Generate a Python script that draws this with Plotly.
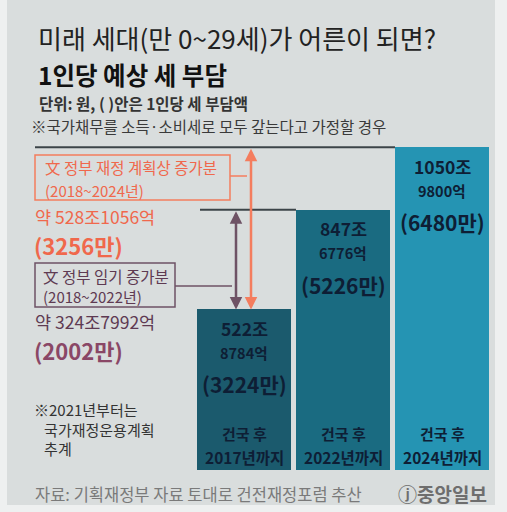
import plotly.graph_objects as go

# ---- data ----
categories = ["건국 후<br>2017년까지", "건국 후<br>2022년까지", "건국 후<br>2024년까지"]
debt_jo = [522.8784, 847.6776, 1050.98]          # 조 원
debt_labels = [("522조", "8784억"), ("847조", "6776억"), ("1050조", "9800억")]
per_capita = ["(3224만)", "(5226만)", "(6480만)"]
bar_colors = ["#1b5a6d", "#1a6b81", "#2594b3"]

inc_plan_label = "약 528조1056억"
inc_plan_pc = "(3256만)"
inc_term_label = "약 324조7992억"
inc_term_pc = "(2002만)"

W, H = 507, 512
FONT = "Noto Sans CJK KR"
DARK = "#0e1e35"
ORANGE = "#f0684c"
ORANGE_L = "#f47d5e"
PURPLE = "#5e3a52"
PURPLE_L = "#6e5265"

# pixel <-> data mapping (margins 0, plot area = whole figure)
X0_PX, X_SCALE = 244.0, 99.0     # bar index 0 centre, px per category
Y0_PX, Y_SCALE = 470.0, 0.307    # value 0 at px 470, px per 조
xr = [(0 - X0_PX) / X_SCALE, (W - X0_PX) / X_SCALE]
yr = [-(H - Y0_PX) / Y_SCALE, Y0_PX / Y_SCALE]


def px2x(p):
    return (p - X0_PX) / X_SCALE


def fx(p):
    return p / W


def fy(p):
    return 1 - p / H


fig = go.Figure()
fig.add_trace(go.Bar(
    x=[0, 1, 2], y=debt_jo, width=0.95,
    marker=dict(color=bar_colors, line=dict(width=0)),
    hoverinfo="skip", showlegend=False,
))

shapes = []
# background frame
shapes.append(dict(type="rect", xref="paper", yref="paper", x0=fx(7), x1=fx(495), y0=fy(505), y1=fy(0),
                   fillcolor="#d9dddd", line=dict(width=0), layer="below"))
# reference lines at bar tops
shapes.append(dict(type="line", xref="x", yref="y", x0=px2x(35), x1=2 - 0.475, y0=debt_jo[2], y1=debt_jo[2],
                   line=dict(color="#3c4448", width=2)))
shapes.append(dict(type="line", xref="x", yref="y", x0=px2x(200), x1=1 - 0.475, y0=debt_jo[1], y1=debt_jo[1],
                   line=dict(color="#3c4448", width=2)))
# boxes
shapes.append(dict(type="rect", xref="paper", yref="paper", x0=fx(35), x1=fx(230), y0=fy(200), y1=fy(155),
                   line=dict(color=ORANGE_L, width=1.5), fillcolor="rgba(0,0,0,0)"))
shapes.append(dict(type="rect", xref="paper", yref="paper", x0=fx(35), x1=fx(175), y0=fy(307), y1=fy(263),
                   line=dict(color=PURPLE_L, width=1.5), fillcolor="rgba(0,0,0,0)"))
# connectors
shapes.append(dict(type="line", xref="paper", yref="paper", x0=fx(230), x1=fx(247), y0=fy(176), y1=fy(176),
                   line=dict(color=ORANGE_L, width=1.5)))
shapes.append(dict(type="line", xref="paper", yref="paper", x0=fx(175), x1=fx(232), y0=fy(286), y1=fy(286),
                   line=dict(color=PURPLE_L, width=1.5)))

ann = []


def txt(x, y, text, size, color, bold=False, xanchor="left", yanchor="middle", align="left"):
    t = f"<b>{text}</b>" if bold else text
    ann.append(dict(xref="paper", yref="paper", x=fx(x), y=fy(y), text=t, showarrow=False,
                    xanchor=xanchor, yanchor=yanchor, borderpad=0, align=align,
                    font=dict(family=FONT, size=size, color=color)))


# arrows (double headed) between bar1 top and the reference lines
ann.append(dict(xref="x", yref="y", axref="x", ayref="y", x=px2x(251), y=debt_jo[0], ax=px2x(251), ay=debt_jo[2],
                text="", showarrow=True, arrowhead=2, startarrowhead=2, arrowside="end+start",
                arrowsize=1, startarrowsize=1, arrowwidth=2.5, arrowcolor=ORANGE_L, standoff=0, startstandoff=0))
ann.append(dict(xref="x", yref="y", axref="x", ayref="y", x=px2x(236), y=debt_jo[0], ax=px2x(236), ay=debt_jo[1],
                text="", showarrow=True, arrowhead=2, startarrowhead=2, arrowside="end+start",
                arrowsize=1, startarrowsize=1, arrowwidth=2.5, arrowcolor=PURPLE_L, standoff=0, startstandoff=0))

# titles
txt(37, 37, "미래 세대(만 0~29세)가 어른이 되면?", 26, "#222222")
txt(37, 74, "1인당 예상 세 부담", 24.5, "#111111", bold=True)
txt(38, 103, "단위: 원, ( )안은 1인당 세 부담액", 15.5, "#333333", bold=True)
txt(30, 125.5, "※국가채무를 소득·소비세로 모두 갚는다고 가정할 경우", 15.5, "#3a3a3a")

# left annotations
txt(44, 167, "文 정부 재정 계획상 증가분", 15.5, ORANGE)
txt(44, 190, "(2018~2024년)", 15, ORANGE)
txt(34, 216, inc_plan_label, 17.5, ORANGE)
txt(33, 245, inc_plan_pc, 22, ORANGE, bold=True)
txt(42, 276, "文 정부 임기 증가분", 15.5, PURPLE)
txt(42, 296, "(2018~2022년)", 15, PURPLE)
txt(34, 321, inc_term_label, 17.5, PURPLE)
txt(33, 350, inc_term_pc, 22, "#8a4766", bold=True)

txt(33, 429, "※2021년부터는<br>&nbsp;&nbsp;&nbsp;국가재정운용계획<br>&nbsp;&nbsp;&nbsp;추계", 15, "#333333")

# bar labels (offsets below each bar top, in px)
for i in range(3):
    top_px = Y0_PX - debt_jo[i] * Y_SCALE
    cx = X0_PX + i * X_SCALE
    txt(cx, top_px + 19, debt_labels[i][0], 17.5, DARK, bold=True, xanchor="center")
    txt(cx, top_px + 43, debt_labels[i][1], 14.5, DARK, bold=True, xanchor="center")
    txt(cx, top_px + 75, per_capita[i], 21, DARK, bold=True, xanchor="center")
    l1, l2 = categories[i].split("<br>")
    txt(cx, 433, l1, 15, DARK, bold=True, xanchor="center")
    txt(cx, 457, l2, 15.5, DARK, bold=True, xanchor="center")

# footer
txt(34, 494, "자료: 기획재정부 자료 토대로 건전재정포럼 추산", 16.5, "#7a7a7a")
txt(488, 493, "ⓙ중앙일보", 19, "#6e6e6e", bold=True, xanchor="right")

fig.update_layout(
    width=W, height=H, autosize=False,
    margin=dict(l=0, r=0, t=0, b=0),
    paper_bgcolor="#eef0f0", plot_bgcolor="rgba(0,0,0,0)",
    xaxis=dict(range=xr, visible=False, fixedrange=True),
    yaxis=dict(range=yr, visible=False, fixedrange=True),
    bargap=0, shapes=shapes, annotations=ann,
    font=dict(family=FONT),
)

fig.write_html("out.html", config={"displayModeBar": False})
